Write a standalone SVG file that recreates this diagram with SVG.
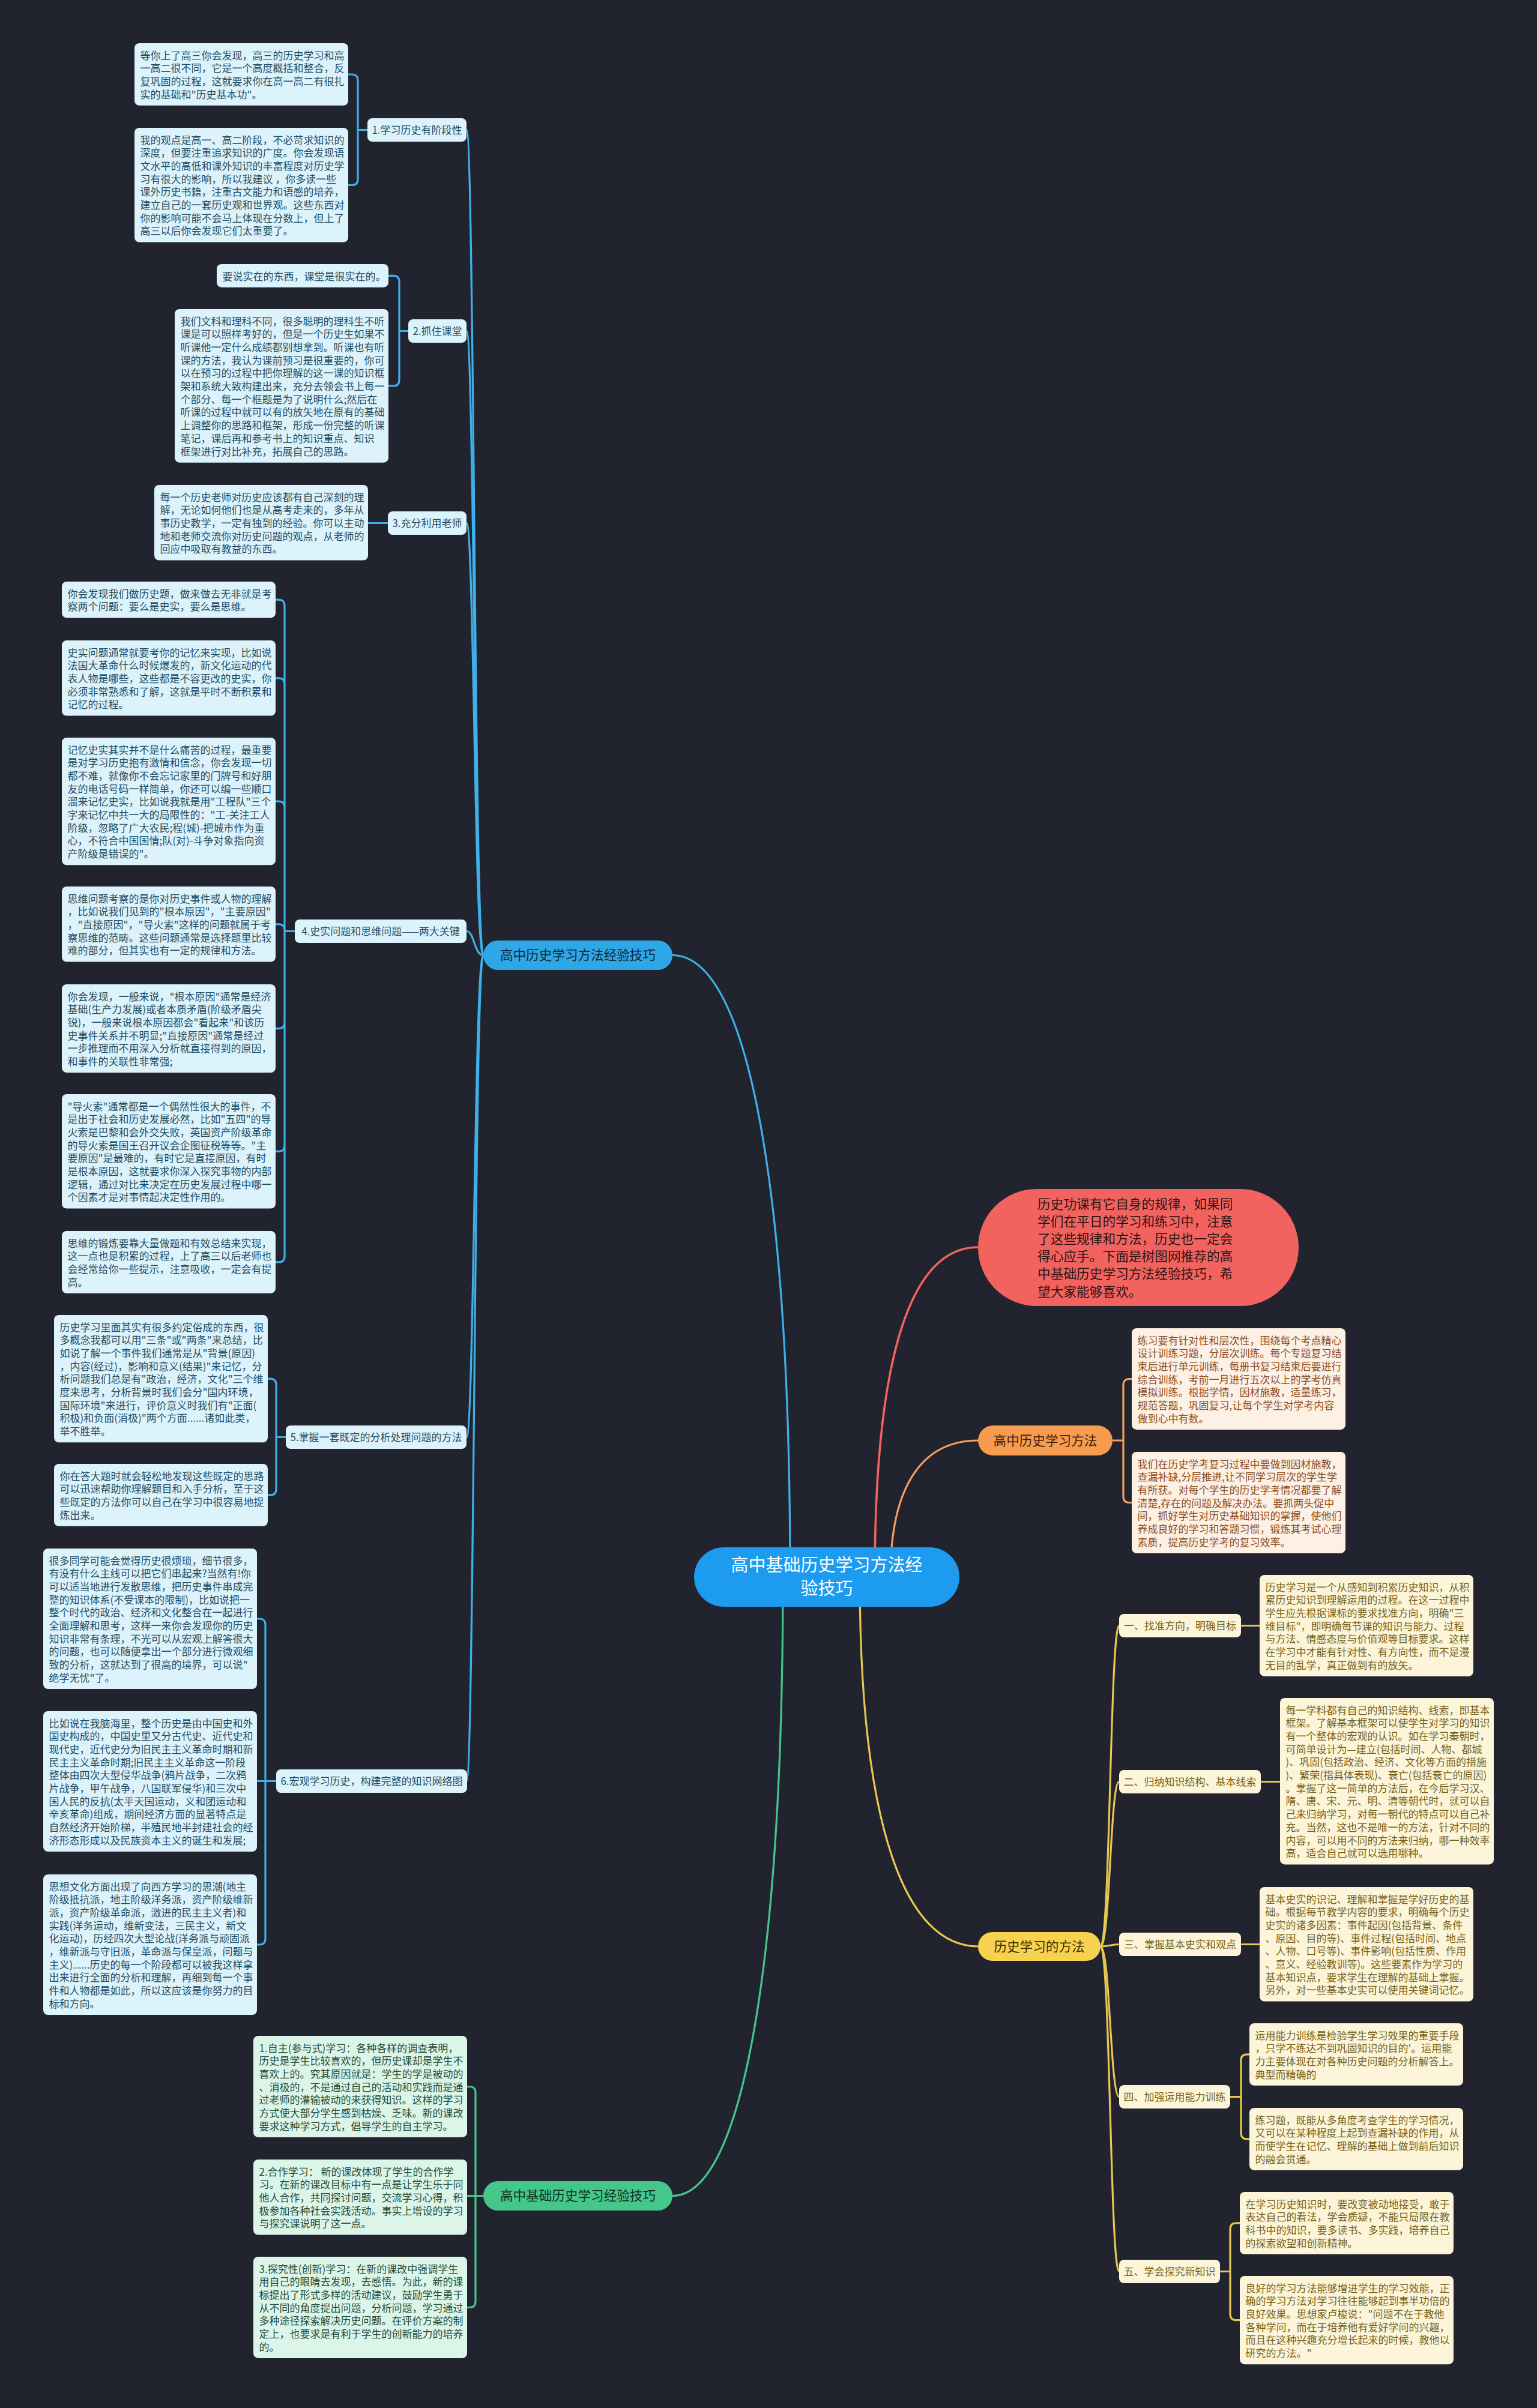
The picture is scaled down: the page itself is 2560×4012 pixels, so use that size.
<svg xmlns="http://www.w3.org/2000/svg" width="2560" height="4012" viewBox="0 0 2560 4012">
<style>
text{font-family:"Noto Sans CJK SC","Noto Sans",sans-serif}
.t17{font-size:17px}
.tb{fill:#1f4d63}
.tg{fill:#234c3b}
.to{fill:#8c4d1f}
.ty{fill:#76621a}
.bb{fill:#ddf3fc}
.bg2{fill:#dcf5e9}
.bo{fill:#fdf0e5}
.by{fill:#fcf5d9}
.lnb{fill:none;stroke:#3fb1ea;stroke-width:3.2}
.lng{fill:none;stroke:#45c78b;stroke-width:3.2}
.lno{fill:none;stroke:#f3a15c;stroke-width:3.2}
.lny{fill:none;stroke:#e8c84e;stroke-width:3.2}
.lnr{fill:none;stroke:#f26360;stroke-width:3.6}
.main{font-size:21.6px;text-anchor:middle}
.mid{text-anchor:middle}
</style>
<rect width="2560" height="4012" fill="#21242e"/>

<g id="connectors">
  <!-- from central node -->
  <path class="lnb" stroke-width="3.8" d="M 1316 2627 C 1316 2000 1250 1591.5 1120 1591.5"/>
  <path class="lng" stroke-width="3.8" d="M 1304 2627 C 1304 3250 1240 3658.5 1120 3658.5"/>
  <path class="lnr" d="M 1457 2627 C 1457 2250 1520 2078 1629 2078"/>
  <path class="lno" stroke-width="3.8" d="M 1483 2627 C 1483 2470 1540 2400 1629 2400"/>
  <path class="lny" stroke-width="3.8" d="M 1432 2627 C 1432 3050 1510 3243 1629 3243"/>
  <!-- blue trunk -->
  <path class="lnb" d="M 777 216.5 C 790 216.5 790 1591.5 805 1591.5"/>
  <path class="lnb" d="M 777 551.5 C 790 551.5 790 1591.5 805 1591.5"/>
  <path class="lnb" d="M 777 871.5 C 790 871.5 790 1591.5 805 1591.5"/>
  <path class="lnb" d="M 777 1551.5 C 790 1551.5 790 1591.5 805 1591.5"/>
  <path class="lnb" d="M 777 2394.5 C 790 2394.5 790 1591.5 805 1591.5"/>
  <path class="lnb" d="M 777 2967.5 C 790 2967.5 790 1591.5 805 1591.5"/>
  <!-- sec1 -->
  <path class="lnb" d="M 612 216.5 H 596 V 134 Q 596 124 586 124 H 580 M 596 216.5 V 298.5 Q 596 308.5 586 308.5 H 580"/>
  <!-- sec2 -->
  <path class="lnb" d="M 680 551.5 H 665 V 469.4 Q 665 459.4 655 459.4 H 647 M 665 551.5 V 632.9 Q 665 642.9 655 642.9 H 647"/>
  <!-- sec3 -->
  <path class="lnb" d="M 646 871.5 H 613"/>
  <!-- sec4 -->
  <path class="lnb" d="M 491 1551.5 H 474 V 1009.2 Q 474 999.2 464 999.2 H 459 M 474 1551.5 V 1139.8 Q 474 1129.8 464 1129.8 H 459 M 474 1551.5 V 1345.2 Q 474 1335.2 464 1335.2 H 459 M 474 1551.5 V 1549.8 Q 474 1539.8 464 1539.8 H 459 M 474 1551.5 V 1703.6 Q 474 1713.6 464 1713.6 H 459 M 474 1551.5 V 1908.3 Q 474 1918.3 464 1918.3 H 459 M 474 1551.5 V 2092.9 Q 474 2102.9 464 2102.9 H 459"/>
  <!-- sec5 -->
  <path class="lnb" d="M 476 2394.5 H 460 V 2307.2 Q 460 2297.2 450 2297.2 H 446 M 460 2394.5 V 2480.9 Q 460 2490.9 450 2490.9 H 446"/>
  <!-- sec6 -->
  <path class="lnb" d="M 460 2967.5 H 428 M 442 2967.5 V 2707 Q 442 2697 432 2697 H 428 M 442 2967.5 V 3230 Q 442 3240 432 3240 H 428"/>
  <!-- green -->
  <path class="lng" d="M 805 3658.5 H 778 M 792 3658.5 V 3486.5 Q 792 3476.5 782 3476.5 H 778 M 792 3658.5 V 3834.5 Q 792 3844.5 782 3844.5 H 778"/>
  <!-- orange -->
  <path class="lno" d="M 1853 2400 H 1871 V 2307.5 Q 1871 2297.5 1881 2297.5 H 1885 M 1871 2400 V 2493.5 Q 1871 2503.5 1881 2503.5 H 1885"/>
  <!-- yellow trunk -->
  <path class="lny" d="M 1833 3243 C 1849 3243 1849 2708.5 1864 2708.5"/>
  <path class="lny" d="M 1833 3243 C 1849 3243 1849 2968.5 1864 2968.5"/>
  <path class="lny" d="M 1833 3243 C 1849 3243 1849 3239.5 1864 3239.5"/>
  <path class="lny" d="M 1833 3243 C 1849 3243 1849 3493.5 1864 3493.5"/>
  <path class="lny" d="M 1833 3243 C 1849 3243 1849 3784.5 1864 3784.5"/>
  <path class="lny" d="M 2067 2708.5 H 2098 M 2100 2968.5 H 2132 M 2067 3239.5 H 2098"/>
  <path class="lny" d="M 2049 3493.5 H 2067 V 3432.9 Q 2067 3422.9 2077 3422.9 H 2081 M 2067 3493.5 V 3553.9 Q 2067 3563.9 2077 3563.9 H 2081"/>
  <path class="lny" d="M 2032 3784.5 H 2049 V 3713.9 Q 2049 3703.9 2059 3703.9 H 2065 M 2049 3784.5 V 3855.6 Q 2049 3865.6 2059 3865.6 H 2065"/>
</g>

<!-- central -->
<g id="center">
  <rect x="1156" y="2578" width="442" height="99" rx="49.5" fill="#1c9bef"/>
  <text class="mid" font-size="29" fill="#ffffff"><tspan x="1377" y="2618">高中基础历史学习方法经</tspan><tspan x="1377" y="2657">验技巧</tspan></text>
</g>

<g id="intro">
  <rect x="1629" y="1981" width="534" height="195" rx="97.5" fill="#f26360"/>
  <text font-size="21.7" fill="#2d1515"><tspan x="1728" y="2013.5">历史功课有它自身的规律，如果同</tspan><tspan x="1728" y="2042.7">学们在平日的学习和练习中，注意</tspan><tspan x="1728" y="2071.9">了这些规律和方法，历史也一定会</tspan><tspan x="1728" y="2101.1">得心应手。下面是树图网推荐的高</tspan><tspan x="1728" y="2130.3">中基础历史学习方法经验技巧，希</tspan><tspan x="1728" y="2159.5">望大家能够喜欢。</tspan></text>
</g>

<g id="node-blue">
  <rect x="805" y="1567" width="315" height="49" rx="24.5" fill="#2ea7e6"/>
  <text class="main" x="962.5" y="1599" fill="#10273a">高中历史学习方法经验技巧</text>
</g>
<g id="node-green">
  <rect x="805" y="3634" width="315" height="49" rx="24.5" fill="#45c78b"/>
  <text class="main" x="962.5" y="3666" fill="#10301f">高中基础历史学习经验技巧</text>
</g>
<g id="node-orange">
  <rect x="1629" y="2375" width="224" height="50" rx="25" fill="#f79b4f"/>
  <text class="main" x="1741" y="2407.5" fill="#3a200d">高中历史学习方法</text>
</g>
<g id="node-yellow">
  <rect x="1629" y="3219" width="204" height="48" rx="24" fill="#f7d24e"/>
  <text class="main" x="1731" y="3250.5" fill="#3a2f05">历史学习的方法</text>
</g>

<!-- left labels -->
<g id="l1"><rect class="bb" x="612" y="197" width="165" height="39" rx="8"/><text class="t17 tb mid" x="694.5" y="222.5">1.学习历史有阶段性</text></g>
<g id="l2"><rect class="bb" x="680" y="532" width="97" height="39" rx="8"/><text class="t17 tb mid" x="728.5" y="557.5">2.抓住课堂</text></g>
<g id="l3"><rect class="bb" x="646" y="852" width="131" height="39" rx="8"/><text class="t17 tb mid" x="711.5" y="877.5">3.充分利用老师</text></g>
<g id="l4"><rect class="bb" x="491" y="1532" width="286" height="39" rx="8"/><text class="t17 tb mid" x="634" y="1557.5">4.史实问题和思维问题——两大关键</text></g>
<g id="l5"><rect class="bb" x="476" y="2375" width="301" height="39" rx="8"/><text class="t17 tb mid" x="626.5" y="2400.5">5.掌握一套既定的分析处理问题的方法</text></g>
<g id="l6"><rect class="bb" x="460" y="2948" width="318" height="39" rx="8"/><text class="t17 tb mid" x="619" y="2973.5">6.宏观学习历史，构建完整的知识网络图</text></g>

<!-- sec1 boxes -->
<g id="a1"><rect class="bb" x="224" y="72" width="356" height="103.8" rx="8"/>
<text class="t17 tb"><tspan x="233.5" y="98.5">等你上了高三你会发现，高三的历史学习和高</tspan><tspan x="233.5" y="120.2">一高二很不同，它是一个高度概括和整合，反</tspan><tspan x="233.5" y="141.9">复巩固的过程，这就要求你在高一高二有很扎</tspan><tspan x="233.5" y="163.6">实的基础和"历史基本功"。</tspan></text></g>
<g id="a2"><rect class="bb" x="224" y="213" width="356" height="190.6" rx="8"/>
<text class="t17 tb"><tspan x="233.5" y="239.5">我的观点是高一、高二阶段，不必苛求知识的</tspan><tspan x="233.5" y="261.2">深度，但要注重追求知识的广度。你会发现语</tspan><tspan x="233.5" y="282.9">文水平的高低和课外知识的丰富程度对历史学</tspan><tspan x="233.5" y="304.6">习有很大的影响，所以我建议 ，你多读一些</tspan><tspan x="233.5" y="326.3">课外历史书籍，注重古文能力和语感的培养，</tspan><tspan x="233.5" y="348">建立自己的一套历史观和世界观。这些东西对</tspan><tspan x="233.5" y="369.7">你的影响可能不会马上体现在分数上，但上了</tspan><tspan x="233.5" y="391.4">高三以后你会发现它们太重要了。</tspan></text></g>

<!-- sec2 -->
<g id="b1"><rect class="bb" x="361" y="440" width="286" height="38.7" rx="8"/>
<text class="t17 tb"><tspan x="370.5" y="466.5">要说实在的东西，课堂是很实在的。</tspan></text></g>
<g id="b2"><rect class="bb" x="291" y="515" width="356" height="255.7" rx="8"/>
<text class="t17 tb"><tspan x="300.5" y="541.5">我们文科和理科不同，很多聪明的理科生不听</tspan><tspan x="300.5" y="563.2">课是可以照样考好的，但是一个历史生如果不</tspan><tspan x="300.5" y="584.9">听课他一定什么成绩都别想拿到。听课也有听</tspan><tspan x="300.5" y="606.6">课的方法，我认为课前预习是很重要的，你可</tspan><tspan x="300.5" y="628.3">以在预习的过程中把你理解的这一课的知识框</tspan><tspan x="300.5" y="650">架和系统大致构建出来，充分去领会书上每一</tspan><tspan x="300.5" y="671.7">个部分、每一个框题是为了说明什么;然后在</tspan><tspan x="300.5" y="693.4">听课的过程中就可以有的放矢地在原有的基础</tspan><tspan x="300.5" y="715.1">上调整你的思路和框架，形成一份完整的听课</tspan><tspan x="300.5" y="736.8">笔记，课后再和参考书上的知识重点、知识</tspan><tspan x="300.5" y="758.5">框架进行对比补充，拓展自己的思路。</tspan></text></g>

<!-- sec3 -->
<g id="c1"><rect class="bb" x="257" y="808" width="356" height="125.5" rx="8"/>
<text class="t17 tb"><tspan x="266.5" y="834.5">每一个历史老师对历史应该都有自己深刻的理</tspan><tspan x="266.5" y="856.2">解，无论如何他们也是从高考走来的，多年从</tspan><tspan x="266.5" y="877.9">事历史教学，一定有独到的经验。你可以主动</tspan><tspan x="266.5" y="899.6">地和老师交流你对历史问题的观点，从老师的</tspan><tspan x="266.5" y="921.3">回应中吸取有教益的东西。</tspan></text></g>

<!-- sec4 -->
<g id="d1"><rect class="bb" x="103" y="969" width="356" height="60.4" rx="8"/>
<text class="t17 tb"><tspan x="112.5" y="995.5">你会发现我们做历史题，做来做去无非就是考</tspan><tspan x="112.5" y="1017.2">察两个问题：要么是史实，要么是思维。</tspan></text></g>
<g id="d2"><rect class="bb" x="103" y="1067" width="356" height="125.5" rx="8"/>
<text class="t17 tb"><tspan x="112.5" y="1093.5">史实问题通常就要考你的记忆来实现，比如说</tspan><tspan x="112.5" y="1115.2">法国大革命什么时候爆发的，新文化运动的代</tspan><tspan x="112.5" y="1136.9">表人物是哪些，这些都是不容更改的史实，你</tspan><tspan x="112.5" y="1158.6">必须非常熟悉和了解，这就是平时不断积累和</tspan><tspan x="112.5" y="1180.3">记忆的过程。</tspan></text></g>
<g id="d3"><rect class="bb" x="103" y="1229" width="356" height="212.3" rx="8"/>
<text class="t17 tb"><tspan x="112.5" y="1255.5">记忆史实其实并不是什么痛苦的过程，最重要</tspan><tspan x="112.5" y="1277.2">是对学习历史抱有激情和信念，你会发现一切</tspan><tspan x="112.5" y="1298.9">都不难，就像你不会忘记家里的门牌号和好朋</tspan><tspan x="112.5" y="1320.6">友的电话号码一样简单，你还可以编一些顺口</tspan><tspan x="112.5" y="1342.3">溜来记忆史实，比如说我就是用"工程队"三个</tspan><tspan x="112.5" y="1364">字来记忆中共一大的局限性的："工-关注工人</tspan><tspan x="112.5" y="1385.7">阶级，忽略了广大农民;程(城)-把城市作为重</tspan><tspan x="112.5" y="1407.4">心，不符合中国国情;队(对)-斗争对象指向资</tspan><tspan x="112.5" y="1429.1">产阶级是错误的"。</tspan></text></g>
<g id="d4"><rect class="bb" x="103" y="1477" width="356" height="125.5" rx="8"/>
<text class="t17 tb"><tspan x="112.5" y="1503.5">思维问题考察的是你对历史事件或人物的理解</tspan><tspan x="112.5" y="1525.2">，比如说我们见到的"根本原因"，"主要原因"</tspan><tspan x="112.5" y="1546.9">，"直接原因"，"导火索"这样的问题就属于考</tspan><tspan x="112.5" y="1568.6">察思维的范畴。这些问题通常是选择题里比较</tspan><tspan x="112.5" y="1590.3">难的部分，但其实也有一定的规律和方法。</tspan></text></g>
<g id="d5"><rect class="bb" x="103" y="1640" width="356" height="147.2" rx="8"/>
<text class="t17 tb"><tspan x="112.5" y="1666.5">你会发现，一般来说，"根本原因"通常是经济</tspan><tspan x="112.5" y="1688.2">基础(生产力发展)或者本质矛盾(阶级矛盾尖</tspan><tspan x="112.5" y="1709.9">锐)，一般来说根本原因都会"看起来"和该历</tspan><tspan x="112.5" y="1731.6">史事件关系并不明显;"直接原因"通常是经过</tspan><tspan x="112.5" y="1753.3">一步推理而不用深入分析就直接得到的原因，</tspan><tspan x="112.5" y="1775">和事件的关联性非常强;</tspan></text></g>
<g id="d6"><rect class="bb" x="103" y="1823" width="356" height="190.6" rx="8"/>
<text class="t17 tb"><tspan x="112.5" y="1849.5">"导火索"通常都是一个偶然性很大的事件，不</tspan><tspan x="112.5" y="1871.2">是出于社会和历史发展必然，比如"五四"的导</tspan><tspan x="112.5" y="1892.9">火索是巴黎和会外交失败，英国资产阶级革命</tspan><tspan x="112.5" y="1914.6">的导火索是国王召开议会企图征税等等。"主</tspan><tspan x="112.5" y="1936.3">要原因"是最难的，有时它是直接原因，有时</tspan><tspan x="112.5" y="1958">是根本原因，这就要求你深入探究事物的内部</tspan><tspan x="112.5" y="1979.7">逻辑，通过对比来决定在历史发展过程中哪一</tspan><tspan x="112.5" y="2001.4">个因素才是对事情起决定性作用的。</tspan></text></g>
<g id="d7"><rect class="bb" x="103" y="2051" width="356" height="103.8" rx="8"/>
<text class="t17 tb"><tspan x="112.5" y="2077.5">思维的锻炼要靠大量做题和有效总结来实现，</tspan><tspan x="112.5" y="2099.2">这一点也是积累的过程，上了高三以后老师也</tspan><tspan x="112.5" y="2120.9">会经常给你一些提示，注意吸收，一定会有提</tspan><tspan x="112.5" y="2142.6">高。</tspan></text></g>

<!-- sec5 -->
<g id="e1"><rect class="bb" x="90" y="2191" width="356" height="212.3" rx="8"/>
<text class="t17 tb"><tspan x="99.5" y="2217.5">历史学习里面其实有很多约定俗成的东西，很</tspan><tspan x="99.5" y="2239.2">多概念我都可以用"三条"或"两条"来总结，比</tspan><tspan x="99.5" y="2260.9">如说了解一个事件我们通常是从"背景(原因)</tspan><tspan x="99.5" y="2282.6">，内容(经过)，影响和意义(结果)"来记忆，分</tspan><tspan x="99.5" y="2304.3">析问题我们总是有"政治，经济，文化"三个维</tspan><tspan x="99.5" y="2326">度来思考，分析背景时我们会分"国内环境，</tspan><tspan x="99.5" y="2347.7">国际环境"来进行，评价意义时我们有"正面(</tspan><tspan x="99.5" y="2369.4">积极)和负面(消极)"两个方面......诸如此类，</tspan><tspan x="99.5" y="2391.1">举不胜举。</tspan></text></g>
<g id="e2"><rect class="bb" x="90" y="2439" width="356" height="103.8" rx="8"/>
<text class="t17 tb"><tspan x="99.5" y="2465.5">你在答大题时就会轻松地发现这些既定的思路</tspan><tspan x="99.5" y="2487.2">可以迅速帮助你理解题目和入手分析，至于这</tspan><tspan x="99.5" y="2508.9">些既定的方法你可以自己在学习中很容易地提</tspan><tspan x="99.5" y="2530.6">炼出来。</tspan></text></g>

<!-- sec6 -->
<g id="f1"><rect class="bb" x="72" y="2580" width="356" height="234" rx="8"/>
<text class="t17 tb"><tspan x="81.5" y="2606.5">很多同学可能会觉得历史很烦琐，细节很多，</tspan><tspan x="81.5" y="2628.2">有没有什么主线可以把它们串起来?当然有!你</tspan><tspan x="81.5" y="2649.9">可以适当地进行发散思维，把历史事件串成完</tspan><tspan x="81.5" y="2671.6">整的知识体系(不受课本的限制)，比如说把一</tspan><tspan x="81.5" y="2693.3">整个时代的政治、经济和文化整合在一起进行</tspan><tspan x="81.5" y="2715">全面理解和思考，这样一来你会发现你的历史</tspan><tspan x="81.5" y="2736.7">知识非常有条理，不光可以从宏观上解答很大</tspan><tspan x="81.5" y="2758.4">的问题，也可以随便拿出一个部分进行微观细</tspan><tspan x="81.5" y="2780.1">致的分析，这就达到了很高的境界，可以说"</tspan><tspan x="81.5" y="2801.8">绝学无忧"了。</tspan></text></g>
<g id="f2"><rect class="bb" x="72" y="2851" width="356" height="234" rx="8"/>
<text class="t17 tb"><tspan x="81.5" y="2877.5">比如说在我脑海里，整个历史是由中国史和外</tspan><tspan x="81.5" y="2899.2">国史构成的，中国史里又分古代史、近代史和</tspan><tspan x="81.5" y="2920.9">现代史，近代史分为旧民主主义革命时期和新</tspan><tspan x="81.5" y="2942.6">民主主义革命时期;旧民主主义革命这一阶段</tspan><tspan x="81.5" y="2964.3">整体由四次大型侵华战争(鸦片战争，二次鸦</tspan><tspan x="81.5" y="2986">片战争，甲午战争，八国联军侵华)和三次中</tspan><tspan x="81.5" y="3007.7">国人民的反抗(太平天国运动，义和团运动和</tspan><tspan x="81.5" y="3029.4">辛亥革命)组成，期间经济方面的显著特点是</tspan><tspan x="81.5" y="3051.1">自然经济开始阶梯，半殖民地半封建社会的经</tspan><tspan x="81.5" y="3072.8">济形态形成以及民族资本主义的诞生和发展;</tspan></text></g>
<g id="f3"><rect class="bb" x="72" y="3123" width="356" height="234" rx="8"/>
<text class="t17 tb"><tspan x="81.5" y="3149.5">思想文化方面出现了向西方学习的思潮(地主</tspan><tspan x="81.5" y="3171.2">阶级抵抗派，地主阶级洋务派，资产阶级维新</tspan><tspan x="81.5" y="3192.9">派，资产阶级革命派，激进的民主主义者)和</tspan><tspan x="81.5" y="3214.6">实践(洋务运动，维新变法，三民主义，新文</tspan><tspan x="81.5" y="3236.3">化运动)，历经四次大型论战(洋务派与顽固派</tspan><tspan x="81.5" y="3258">，维新派与守旧派，革命派与保皇派，问题与</tspan><tspan x="81.5" y="3279.7">主义)......历史的每一个阶段都可以被我这样拿</tspan><tspan x="81.5" y="3301.4">出来进行全面的分析和理解，再细到每一个事</tspan><tspan x="81.5" y="3323.1">件和人物都是如此，所以这应该是你努力的目</tspan><tspan x="81.5" y="3344.8">标和方向。</tspan></text></g>

<!-- green -->
<g id="g1"><rect class="bg2" x="422" y="3392" width="356" height="168.9" rx="8"/>
<text class="t17 tg"><tspan x="431.5" y="3418.5">1.自主(参与式)学习：各种各样的调查表明，</tspan><tspan x="431.5" y="3440.2">历史是学生比较喜欢的，但历史课却是学生不</tspan><tspan x="431.5" y="3461.9">喜欢上的。究其原因就是：学生的学是被动的</tspan><tspan x="431.5" y="3483.6">、消极的，不是通过自己的活动和实践而是通</tspan><tspan x="431.5" y="3505.3">过老师的灌输被动的来获得知识。这样的学习</tspan><tspan x="431.5" y="3527">方式使大部分学生感到枯燥、乏味。新的课改</tspan><tspan x="431.5" y="3548.7">要求这种学习方式，倡导学生的自主学习。</tspan></text></g>
<g id="g2"><rect class="bg2" x="422" y="3598" width="356" height="125.5" rx="8"/>
<text class="t17 tg"><tspan x="431.5" y="3624.5">2.合作学习： 新的课改体现了学生的合作学</tspan><tspan x="431.5" y="3646.2">习。在新的课改目标中有一点是让学生乐于同</tspan><tspan x="431.5" y="3667.9">他人合作，共同探讨问题，交流学习心得，积</tspan><tspan x="431.5" y="3689.6">极参加各种社会实践活动。事实上增设的学习</tspan><tspan x="431.5" y="3711.3">与探究课说明了这一点。</tspan></text></g>
<g id="g3"><rect class="bg2" x="422" y="3760" width="356" height="168.9" rx="8"/>
<text class="t17 tg"><tspan x="431.5" y="3786.5">3.探究性(创新)学习：在新的课改中强调学生</tspan><tspan x="431.5" y="3808.2">用自己的眼睛去发现，去感悟。为此，新的课</tspan><tspan x="431.5" y="3829.9">标提出了形式多样的活动建议，鼓励学生勇于</tspan><tspan x="431.5" y="3851.6">从不同的角度提出问题，分析问题，学习通过</tspan><tspan x="431.5" y="3873.3">多种途径探索解决历史问题。在评价方案的制</tspan><tspan x="431.5" y="3895">定上，也要求是有利于学生的创新能力的培养</tspan><tspan x="431.5" y="3916.7">的。</tspan></text></g>

<!-- orange -->
<g id="h1"><rect class="bo" x="1885" y="2213" width="356" height="168.9" rx="8"/>
<text class="t17 to"><tspan x="1894.5" y="2239.5">练习要有针对性和层次性，围绕每个考点精心</tspan><tspan x="1894.5" y="2261.2">设计训练习题，分层次训练。每个专题复习结</tspan><tspan x="1894.5" y="2282.9">束后进行单元训练，每册书复习结束后要进行</tspan><tspan x="1894.5" y="2304.6">综合训练，考前一月进行五次以上的学考仿真</tspan><tspan x="1894.5" y="2326.3">模拟训练。根据学情，因材施教，适量练习，</tspan><tspan x="1894.5" y="2348">规范答题，巩固复习,让每个学生对学考内容</tspan><tspan x="1894.5" y="2369.7">做到心中有数。</tspan></text></g>
<g id="h2"><rect class="bo" x="1885" y="2419" width="356" height="168.9" rx="8"/>
<text class="t17 to"><tspan x="1894.5" y="2445.5">我们在历史学考复习过程中要做到因材施教，</tspan><tspan x="1894.5" y="2467.2">查漏补缺,分层推进,让不同学习层次的学生学</tspan><tspan x="1894.5" y="2488.9">有所获。对每个学生的历史学考情况都要了解</tspan><tspan x="1894.5" y="2510.6">清楚,存在的问题及解决办法。要抓两头促中</tspan><tspan x="1894.5" y="2532.3">间，抓好学生对历史基础知识的掌握，使他们</tspan><tspan x="1894.5" y="2554">养成良好的学习和答题习惯，锻炼其考试心理</tspan><tspan x="1894.5" y="2575.7">素质，提高历史学考的复习效率。</tspan></text></g>

<!-- yellow labels -->
<g id="y1l"><rect class="by" x="1864" y="2689" width="203" height="39" rx="8"/><text class="t17 ty mid" x="1965.5" y="2714.5">一、找准方向，明确目标</text></g>
<g id="y2l"><rect class="by" x="1864" y="2949" width="236" height="39" rx="8"/><text class="t17 ty mid" x="1982" y="2974.5">二、归纳知识结构、基本线索</text></g>
<g id="y3l"><rect class="by" x="1864" y="3220" width="203" height="39" rx="8"/><text class="t17 ty mid" x="1965.5" y="3245.5">三、掌握基本史实和观点</text></g>
<g id="y4l"><rect class="by" x="1864" y="3474" width="185" height="39" rx="8"/><text class="t17 ty mid" x="1956.5" y="3499.5">四、加强运用能力训练</text></g>
<g id="y5l"><rect class="by" x="1864" y="3765" width="168" height="39" rx="8"/><text class="t17 ty mid" x="1948" y="3790.5">五、学会探究新知识</text></g>

<g id="y1"><rect class="by" x="2098" y="2624" width="356" height="168.9" rx="8"/>
<text class="t17 ty"><tspan x="2107.5" y="2650.5">历史学习是一个从感知到积累历史知识，从积</tspan><tspan x="2107.5" y="2672.2">累历史知识到理解运用的过程。在这一过程中</tspan><tspan x="2107.5" y="2693.9">学生应先根据课标的要求找准方向，明确"三</tspan><tspan x="2107.5" y="2715.6">维目标"，即明确每节课的知识与能力、过程</tspan><tspan x="2107.5" y="2737.3">与方法、情感态度与价值观等目标要求。这样</tspan><tspan x="2107.5" y="2759">在学习中才能有针对性、有方向性，而不是漫</tspan><tspan x="2107.5" y="2780.7">无目的乱学，真正做到有的放矢。</tspan></text></g>
<g id="y2"><rect class="by" x="2132" y="2829" width="356" height="277.4" rx="8"/>
<text class="t17 ty"><tspan x="2141.5" y="2855.5">每一学科都有自己的知识结构、线索，即基本</tspan><tspan x="2141.5" y="2877.2">框架。了解基本框架可以使学生对学习的知识</tspan><tspan x="2141.5" y="2898.9">有一个整体的宏观的认识。如在学习秦朝时，</tspan><tspan x="2141.5" y="2920.6">可简单设计为—建立(包括时间、人物、都城</tspan><tspan x="2141.5" y="2942.3">)、巩固(包括政治、经济、文化等方面的措施</tspan><tspan x="2141.5" y="2964">)、繁荣(指具体表现)、衰亡(包括衰亡的原因)</tspan><tspan x="2141.5" y="2985.7">。掌握了这一简单的方法后，在今后学习汉、</tspan><tspan x="2141.5" y="3007.4">隋、唐、宋、元、明、清等朝代时，就可以自</tspan><tspan x="2141.5" y="3029.1">己来归纳学习，对每一朝代的特点可以自己补</tspan><tspan x="2141.5" y="3050.8">充。当然，这也不是唯一的方法，针对不同的</tspan><tspan x="2141.5" y="3072.5">内容，可以用不同的方法来归纳，哪一种效率</tspan><tspan x="2141.5" y="3094.2">高，适合自己就可以选用哪种。</tspan></text></g>
<g id="y3"><rect class="by" x="2098" y="3144" width="356" height="190.6" rx="8"/>
<text class="t17 ty"><tspan x="2107.5" y="3170.5">基本史实的识记、理解和掌握是学好历史的基</tspan><tspan x="2107.5" y="3192.2">础。根据每节教学内容的要求，明确每个历史</tspan><tspan x="2107.5" y="3213.9">史实的诸多因素：事件起因(包括背景、条件</tspan><tspan x="2107.5" y="3235.6">、原因、目的等)、事件过程(包括时间、地点</tspan><tspan x="2107.5" y="3257.3">、人物、口号等)、事件影响(包括性质、作用</tspan><tspan x="2107.5" y="3279">、意义、经验教训等)。这些要素作为学习的</tspan><tspan x="2107.5" y="3300.7">基本知识点，要求学生在理解的基础上掌握。</tspan><tspan x="2107.5" y="3322.4">另外，对一些基本史实可以使用关键词记忆。</tspan></text></g>
<g id="y4a"><rect class="by" x="2081" y="3371" width="356" height="103.8" rx="8"/>
<text class="t17 ty"><tspan x="2090.5" y="3397.5">运用能力训练是检验学生学习效果的重要手段</tspan><tspan x="2090.5" y="3419.2">，只学不练达不到巩固知识的目的'。运用能</tspan><tspan x="2090.5" y="3440.9">力主要体现在对各种历史问题的分析解答上。</tspan><tspan x="2090.5" y="3462.6">典型而精确的</tspan></text></g>
<g id="y4b"><rect class="by" x="2081" y="3512" width="356" height="103.8" rx="8"/>
<text class="t17 ty"><tspan x="2090.5" y="3538.5">练习题，既能从多角度考查学生的学习情况，</tspan><tspan x="2090.5" y="3560.2">又可以在某种程度上起到查漏补缺的作用，从</tspan><tspan x="2090.5" y="3581.9">而使学生在记忆、理解的基础上做到前后知识</tspan><tspan x="2090.5" y="3603.6">的融会贯通。</tspan></text></g>
<g id="y5a"><rect class="by" x="2065" y="3652" width="356" height="103.8" rx="8"/>
<text class="t17 ty"><tspan x="2074.5" y="3678.5">在学习历史知识时，要改变被动地接受，敢于</tspan><tspan x="2074.5" y="3700.2">表达自己的看法，学会质疑，不能只局限在教</tspan><tspan x="2074.5" y="3721.9">科书中的知识，要多读书、多实践，培养自己</tspan><tspan x="2074.5" y="3743.6">的探索欲望和创新精神。</tspan></text></g>
<g id="y5b"><rect class="by" x="2065" y="3792" width="356" height="147.2" rx="8"/>
<text class="t17 ty"><tspan x="2074.5" y="3818.5">良好的学习方法能够增进学生的学习效能，正</tspan><tspan x="2074.5" y="3840.2">确的学习方法对学习往往能够起到事半功倍的</tspan><tspan x="2074.5" y="3861.9">良好效果。思想家卢梭说："问题不在于教他</tspan><tspan x="2074.5" y="3883.6">各种学问，而在于培养他有爱好学问的兴趣，</tspan><tspan x="2074.5" y="3905.3">而且在这种兴趣充分增长起来的时候，教他以</tspan><tspan x="2074.5" y="3927">研究的方法。"</tspan></text></g>
</svg>
